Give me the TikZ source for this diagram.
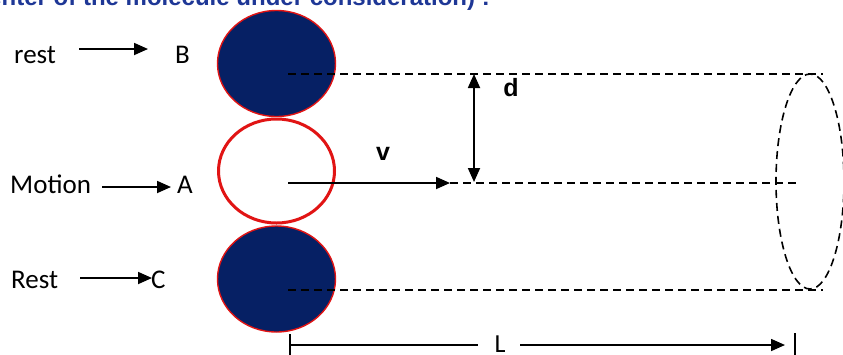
\documentclass[tikz,border=0pt]{standalone}
\usepackage{fontspec}
\setmainfont{Carlito}
\newfontfamily\arialbold{Liberation Sans}[BoldFont={Liberation Sans Bold}]
\usetikzlibrary{arrows.meta,shapes.geometric}
\definecolor{navy}{RGB}{6,32,100}
\definecolor{molred}{RGB}{225,20,20}
\definecolor{headblue}{RGB}{30,55,150}
\begin{document}
\begin{tikzpicture}[x=1pt,y=-1pt,
  lbl/.style={anchor=base west,inner sep=0pt,font=\fontsize{27}{30}\selectfont},
  arr/.style={line width=1.8pt,-{Triangle[length=14pt,width=12pt]}},
  dashline/.style={dashed,dash pattern=on 8pt off 5pt,line width=1.6pt},
  boldlbl/.style={anchor=base,inner sep=0pt,font=\arialbold\bfseries\fontsize{25}{28}\selectfont},
  restmol/.style={ellipse,minimum width=118pt,minimum height=106pt,inner sep=0pt,fill=navy,draw=molred,line width=1.4pt},
  movemol/.style={ellipse,minimum width=116pt,minimum height=104pt,inner sep=0pt,fill=white,draw=molred,line width=3pt}]
\useasboundingbox (0,0) rectangle (843,354);
\clip (0,0) rectangle (843,354);
\fill[white] (0,0) rectangle (843,354);
% heading (cut off)
\node[anchor=base east,inner sep=0pt,text=headblue,font=\arialbold\bfseries\fontsize{24}{27}\selectfont] (head) at (490,5) {center of the molecule under consideration) :};
% molecules
\node[restmol] (B) at (276.5,63.5) {};
\node[movemol] (A) at (276.5,171) {};
\node[restmol] (C) at (276.5,279) {};
% left labels
\node[lbl] (lrest) at (14,63) {rest};
\node[lbl] (lB) at (175,63) {B};
\node[lbl] (lMotion) at (10,193) {Motion};
\node[lbl] (lA) at (177,193) {A};
\node[lbl] (lRest) at (11,288) {Rest};
\node[lbl] (lC) at (151,288) {C};
\coordinate (r1s) at (79,49);   \coordinate (r1e) at (148,49);
\coordinate (r2s) at (102,187); \coordinate (r2e) at (171,187);
\coordinate (r3s) at (80,278);  \coordinate (r3e) at (152,278);
\draw[arr] (r1s) -- (r1e);
\draw[arr] (r2s) -- (r2e);
\draw[arr] (r3s) -- (r3e);
% cylinder
\coordinate (tS) at (288,74);  \coordinate (tE) at (823,74);
\coordinate (mS) at (450,183); \coordinate (mE) at (798,183);
\coordinate (bS) at (288,290); \coordinate (bE) at (823,290);
\draw[dashline] (tS) -- (tE);
\draw[dashline] (mS) -- (mE);
\draw[dashline] (bS) -- (bE);
\draw[dashline] (810,181.5) ellipse [x radius=34, y radius=107.5];
% velocity
\coordinate (vS) at (288,183);
\draw[arr] (vS) -- (mS);
\node[boldlbl] (v) at (383,160) {v};
% d
\coordinate (dT) at (474,74); \coordinate (dB) at (474,182);
\draw[line width=1.8pt,{Triangle[length=14pt,width=12pt]}-{Triangle[length=14pt,width=12pt]}] (dT) -- (dB);
\node[boldlbl] (d) at (511,96) {d};
% L
\node[anchor=base,inner sep=0pt,font=\fontsize{26}{28}\selectfont] (L) at (500,352) {L};
\coordinate (LlT) at (290,334); \coordinate (LlB) at (290,356);
\coordinate (LrT) at (795,333); \coordinate (LrB) at (795,356);
\coordinate (Ll) at (290,345); \coordinate (Lr) at (785,345);
\draw[line width=1.4pt] (LlT) -- (LlB);
\draw[line width=1.4pt] (LrT) -- (LrB);
\draw[line width=1.4pt] (Ll) -- (478,345);
\draw[line width=1.6pt,-{Triangle[length=14pt,width=12pt]}] (520,345) -- (Lr);
\end{tikzpicture}
\end{document}
